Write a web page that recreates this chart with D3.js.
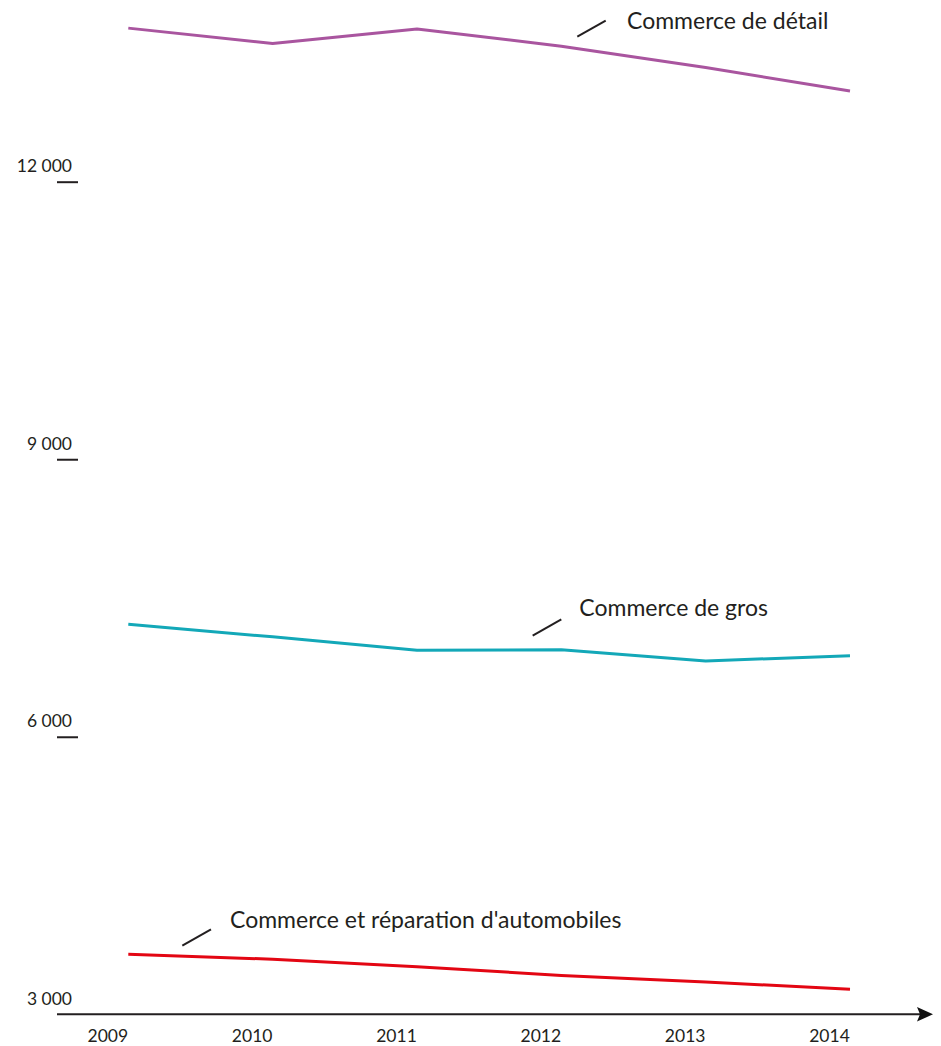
<!DOCTYPE html>
<html><head><meta charset="utf-8">
<script src="https://cdn.jsdelivr.net/npm/d3@7"></script>
<style>
html,body{margin:0;padding:0;background:#fff;}
svg{display:block;}
text{font-family:Lato,"Open Sans",sans-serif;fill:#231f20;}
</style></head>
<body>
<script>
const years = [2009, 2010, 2011, 2012, 2013, 2014];
const detail = [13660, 13495, 13650, 13465, 13235, 12980];
const gros = [7215, 7080, 6935, 6940, 6820, 6875];
const auto = [3650, 3595, 3515, 3420, 3350, 3270];
const yTicks = [3000, 6000, 9000, 12000];
const seriesNames = ["Commerce de détail", "Commerce de gros", "Commerce et réparation d'automobiles"];
const seriesColors = ["#a9559f", "#13a8b8", "#e30613"];

const W = 941, H = 1046;
const svg = d3.select("body").append("svg").attr("width", W).attr("height", H);

const x = d3.scaleLinear().domain([2009, 2014]).range([128.3, 850]);
const y = d3.scaleLinear().domain([3000, 12000]).range([1014.3, 181.7]);
const loc = d3.formatLocale({decimal: ",", thousands: " ", grouping: [3], currency: ["", " €"]});
const fmt = loc.format(",d");

// y axis
const ya = svg.append("g").attr("transform", "translate(57,0)")
  .call(d3.axisRight(y).tickValues(yTicks).tickSize(21).tickFormat(fmt));
ya.select(".domain").remove();
ya.selectAll(".tick line").attr("stroke", "#231f20").attr("stroke-width", 2)
  .filter(d => d === 3000).remove();
ya.selectAll(".tick text").attr("x", 15).attr("dy", -10).attr("text-anchor", "end")
  .attr("font-size", 17.5).attr("font-family", "Lato").attr("fill", "#231f20");

// x axis
const xa = svg.append("g").attr("transform", "translate(0,1014.3)")
  .call(d3.axisBottom(x).tickValues(years).tickSize(0).tickFormat(d3.format("d")));
xa.select(".domain").remove();
xa.selectAll(".tick text").attr("x", -21).attr("y", 0).attr("dy", 28)
  .attr("font-size", 17.5).attr("font-family", "Lato").attr("fill", "#231f20");

svg.append("line").attr("x1", 57).attr("x2", 920).attr("y1", 1014.3).attr("y2", 1014.3)
  .attr("stroke", "#231f20").attr("stroke-width", 2);
svg.append("path").attr("d", "M933,1014.3 L917,1007 L920,1014.3 L917,1021.6 Z").attr("fill", "#111");

// lines
const line = d3.line().x((d, i) => x(years[i])).y(d => y(d));
[detail, gros, auto].forEach((s, k) => {
  svg.append("path").datum(s).attr("d", line).attr("fill", "none")
    .attr("stroke", seriesColors[k]).attr("stroke-width", 3).attr("stroke-linejoin", "round");
});

// annotations
const ann = [
  {t: seriesNames[0], tx: 627, ty: 29, l: [577.3, 36.7, 605.7, 20.7]},
  {t: seriesNames[1], tx: 579.3, ty: 615.7, l: [532.7, 635.7, 561.3, 619.3]},
  {t: seriesNames[2], tx: 230, ty: 927.7, l: [182.3, 945.7, 211, 929.3]}
];
ann.forEach(a => {
  svg.append("line").attr("x1", a.l[0]).attr("y1", a.l[1]).attr("x2", a.l[2]).attr("y2", a.l[3])
    .attr("stroke", "#231f20").attr("stroke-width", 2);
  svg.append("text").attr("x", a.tx).attr("y", a.ty).attr("font-size", 23).text(a.t);
});
</script>
</body></html>
